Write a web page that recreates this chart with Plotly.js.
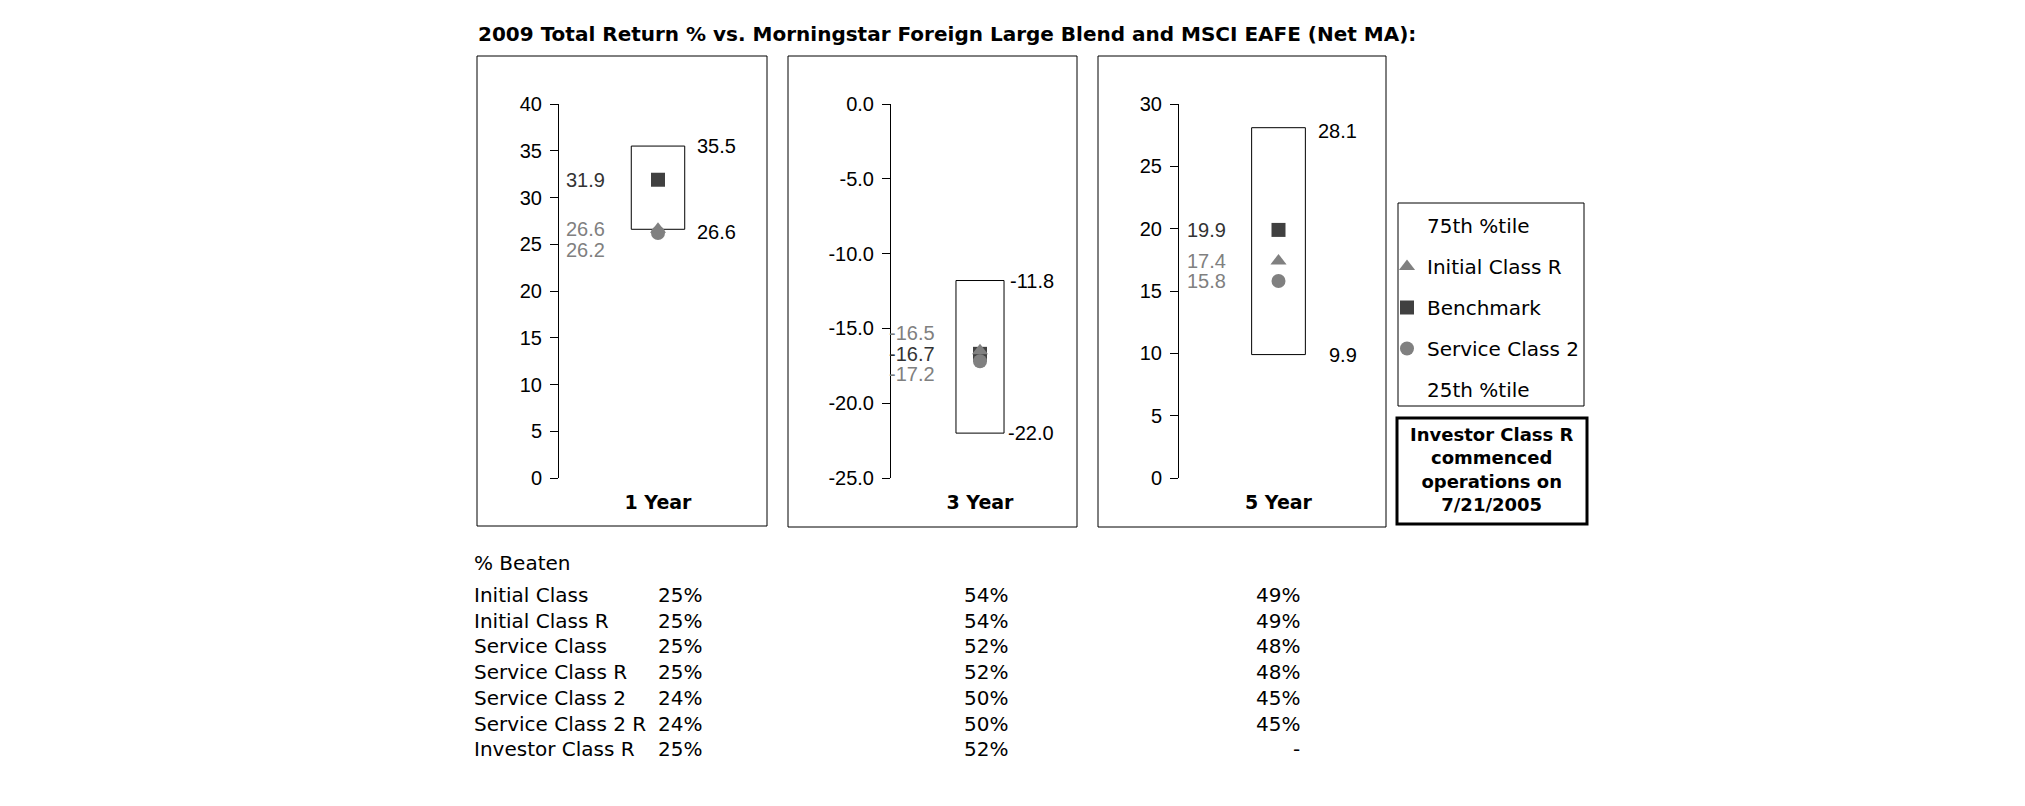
<!DOCTYPE html>
<html><head><meta charset="utf-8">
<script src="https://cdn.plot.ly/plotly-3.0.1.min.js"></script>
<style>html,body{margin:0;padding:0;background:#fff;}#chart{width:2025px;height:806px;}</style>
</head><body><div id="chart"></div>
<script>
// ---- data ----
const periods = ['1 Year', '3 Year', '5 Year'];
const pct75 = [35.5, -11.8, 28.1];
const pct25 = [26.6, -22.0, 9.9];
const benchmark = [31.9, -16.7, 19.9];
const initialClassR = [26.6, -16.5, 17.4];
const serviceClass2 = [26.2, -17.2, 15.8];
const yTicks1 = [0, 5, 10, 15, 20, 25, 30, 35, 40];
const yTicks3 = [-25, -20, -15, -10, -5, 0];
const yTicks5 = [0, 5, 10, 15, 20, 25, 30];
const legendNames = ['75th %tile', 'Initial Class R', 'Benchmark', 'Service Class 2', '25th %tile'];
const chartTitle = '2009 Total Return % vs. Morningstar Foreign Large Blend and MSCI EAFE (Net MA):';
const noteLines = ['Investor Class R', 'commenced', 'operations on', '7/21/2005'];
const beatenHeader = '% Beaten';
const shareClasses = ['Initial Class', 'Initial Class R', 'Service Class', 'Service Class R', 'Service Class 2', 'Service Class 2 R', 'Investor Class R'];
const beaten1Y = ['25%', '25%', '25%', '25%', '24%', '24%', '25%'];
const beaten3Y = ['54%', '54%', '52%', '52%', '50%', '50%', '52%'];
const beaten5Y = ['49%', '49%', '48%', '48%', '45%', '45%', '-'];

// ---- layout helpers ----
const W = 2025, H = 806;
const px = v => v / W, py = v => 1 - v / H;
const DARK = '#404040', GRAY = '#808080';
const VERD = 'DejaVu Sans, Verdana, sans-serif';
const numFont = {family: 'Liberation Sans, Arial, sans-serif', size: 20, color: '#000'};
const panels = [
  {xd: [559, 757], yr: [0, 40], ticks: yTicks1, dec: 0, frame: [477, 56, 767, 526], lShift: -51, rShift: 80,
   ys: {b: 0, i: 0, s: -17, hi: 0, lo: -3}},
  {xd: [891, 1069], yr: [-25, 0], ticks: yTicks3, dec: 1, frame: [788, 56, 1077, 527], lShift: -43, rShift: 76,
   ys: {b: 0, i: 18, s: -13, hi: 0, lo: 0}},
  {xd: [1179, 1378], yr: [0, 30], ticks: yTicks5, dec: 0, frame: [1098, 56, 1386, 527], lShift: -51, rShift: 80,
   ys: {b: 0, i: 0, s: 0, hi: -3, lo: 0}}
];

const traces = [];
const annotations = [];
const shapes = [];
const layout = {
  width: W, height: H, autosize: false,
  margin: {l: 0, r: 0, t: 0, b: 0},
  paper_bgcolor: '#fff', plot_bgcolor: 'rgba(0,0,0,0)',
  showlegend: true,
  legend: {x: px(1387), y: py(206), xanchor: 'left', yanchor: 'top',
           bgcolor: 'rgba(0,0,0,0)', borderwidth: 0, tracegroupgap: 12,
           font: {family: VERD, size: 20, color: '#000'}},
  annotations: annotations, shapes: shapes
};

panels.forEach((p, k) => {
  const n = k === 0 ? '' : String(k + 1);
  const xa = 'x' + n, ya = 'y' + n;
  layout['xaxis' + n] = {
    domain: [px(p.xd[0]), px(p.xd[1])], anchor: ya, type: 'category',
    range: [-0.5, 0.5], showline: false, ticks: '', showgrid: false, zeroline: false,
    tickfont: {family: VERD, size: 19, color: '#000', weight: 'bold'},
    ticklabelstandoff: 11, fixedrange: true
  };
  layout['yaxis' + n] = {
    domain: [py(478), py(104)], anchor: xa, range: p.yr,
    tickmode: 'array', tickvals: p.ticks, ticktext: p.ticks.map(v => v.toFixed(p.dec)),
    showline: true, linecolor: '#000', linewidth: 1,
    ticks: 'outside', ticklen: 8, tickcolor: '#000', tickwidth: 1,
    showgrid: false, zeroline: false, tickfont: numFont, ticklabelstandoff: 4, fixedrange: true
  };
  const cat = [periods[k]];
  // box 25th..75th percentile
  traces.push({type: 'bar', x: cat, base: [pct25[k]], y: [pct75[k] - pct25[k]], width: 0.27,
    xaxis: xa, yaxis: ya, marker: {color: '#fff', line: {color: '#000', width: 1}},
    showlegend: false, hoverinfo: 'skip'});
  // legend entries for percentiles (transparent markers at box edges)
  traces.push({type: 'scatter', mode: 'markers', x: cat, y: [pct75[k]], xaxis: xa, yaxis: ya,
    name: legendNames[0], legendgroup: 'p75', legendrank: 1, showlegend: k === 0,
    marker: {color: 'rgba(0,0,0,0)', size: 1}});
  traces.push({type: 'scatter', mode: 'markers', x: cat, y: [pct25[k]], xaxis: xa, yaxis: ya,
    name: legendNames[4], legendgroup: 'p25', legendrank: 5, showlegend: k === 0,
    marker: {color: 'rgba(0,0,0,0)', size: 1}});
  traces.push({type: 'scatter', mode: 'markers', x: cat, y: [benchmark[k]], xaxis: xa, yaxis: ya,
    name: legendNames[2], legendgroup: 'bm', legendrank: 3, showlegend: k === 0,
    marker: {symbol: 'square', size: 14, color: DARK}});
  traces.push({type: 'scatter', mode: 'markers', x: cat, y: [initialClassR[k]], xaxis: xa, yaxis: ya,
    name: legendNames[1], legendgroup: 'icr', legendrank: 2, showlegend: k === 0,
    marker: {symbol: 'triangle-up', size: 14, color: GRAY}});
  traces.push({type: 'scatter', mode: 'markers', x: cat, y: [serviceClass2[k]], xaxis: xa, yaxis: ya,
    name: legendNames[3], legendgroup: 'sc2', legendrank: 4, showlegend: k === 0,
    marker: {symbol: 'circle', size: 14, color: GRAY}});

  const lab = (val, color, xanchor, xshift, yshift) => annotations.push({
    xref: xa, yref: ya, x: 0, y: val, text: val.toFixed(1), showarrow: false,
    xanchor: xanchor, yanchor: 'middle', xshift: xshift, yshift: yshift,
    font: Object.assign({}, numFont, {color: color})});
  lab(benchmark[k], '#333', 'right', p.lShift, p.ys.b);
  lab(initialClassR[k], GRAY, 'right', p.lShift, p.ys.i);
  lab(serviceClass2[k], GRAY, 'right', p.lShift, p.ys.s);
  lab(pct75[k], '#000', 'right', p.rShift, p.ys.hi);
  lab(pct25[k], '#000', 'right', p.rShift, p.ys.lo);

  shapes.push({type: 'rect', xref: 'paper', yref: 'paper',
    x0: px(p.frame[0]), x1: px(p.frame[2]), y0: py(p.frame[3]), y1: py(p.frame[1]),
    line: {color: '#000', width: 1}, fillcolor: 'rgba(0,0,0,0)', layer: 'below'});
});

// legend frame
shapes.push({type: 'rect', xref: 'paper', yref: 'paper', x0: px(1398), x1: px(1584), y0: py(406), y1: py(203),
  line: {color: '#000', width: 1}, fillcolor: 'rgba(0,0,0,0)'});
// note frame
shapes.push({type: 'rect', xref: 'paper', yref: 'paper', x0: px(1397), x1: px(1587), y0: py(524), y1: py(418),
  line: {color: '#000', width: 3}, fillcolor: 'rgba(0,0,0,0)'});
annotations.push({xref: 'paper', yref: 'paper', x: px(1492), y: py(469), xanchor: 'center', yanchor: 'middle',
  text: noteLines.join('<br>'), showarrow: false, align: 'center',
  font: {family: VERD, size: 18, color: '#000', weight: 'bold'}});

// title
annotations.push({xref: 'paper', yref: 'paper', x: px(476), y: py(34), xanchor: 'left', yanchor: 'middle',
  text: chartTitle, showarrow: false,
  font: {family: VERD, size: 20, color: '#000', weight: 'bold'}});

// % beaten table
const tblFont = {family: VERD, size: 20, color: '#000'};
annotations.push({xref: 'paper', yref: 'paper', x: px(472), y: py(563), xanchor: 'left', yanchor: 'middle',
  text: beatenHeader, showarrow: false, font: tblFont});
shareClasses.forEach((c, i) => {
  const yy = py(595 + i * 25.7);
  annotations.push({xref: 'paper', yref: 'paper', x: px(472), y: yy, xanchor: 'left', yanchor: 'middle',
    text: c, showarrow: false, font: tblFont});
  [[beaten1Y, 704], [beaten3Y, 1010], [beaten5Y, 1302]].forEach(([arr, xr]) => {
    annotations.push({xref: 'paper', yref: 'paper', x: px(xr), y: yy, xanchor: 'right', yanchor: 'middle',
      text: arr[i], showarrow: false, font: tblFont});
  });
});

Plotly.newPlot('chart', traces, layout, {staticPlot: true, displayModeBar: false});
</script></body></html>
